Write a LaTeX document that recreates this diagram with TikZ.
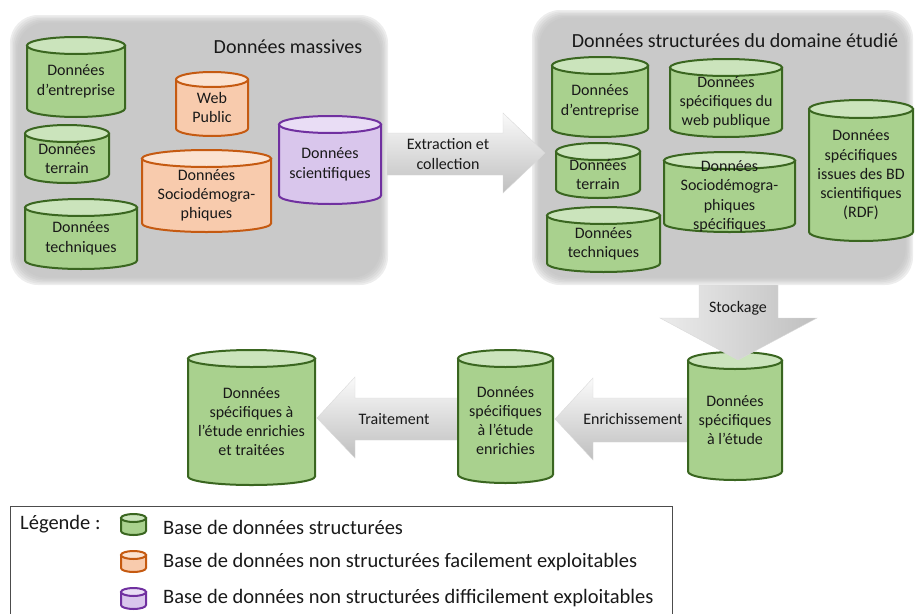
\documentclass[tikz,border=0pt]{standalone}
\usepackage{fontspec}
\setmainfont{Carlito}
\definecolor{gbody}{HTML}{A9D18E}
\definecolor{gtop}{HTML}{CBE4BC}
\definecolor{gline}{HTML}{3A6620}
\definecolor{obody}{HTML}{F8CBAD}
\definecolor{otop}{HTML}{FBE2D0}
\definecolor{oline}{HTML}{C55A11}
\definecolor{pbody}{HTML}{D9C6EC}
\definecolor{ptop}{HTML}{E9DDF5}
\definecolor{pline}{HTML}{7030A0}
\tikzset{
  gcylbody/.style={fill=gbody, draw=gline, line width=2pt},
  gcyltop/.style={fill=gtop, draw=gline, line width=2pt},
  ocylbody/.style={fill=obody, draw=oline, line width=2pt},
  ocyltop/.style={fill=otop, draw=oline, line width=2pt},
  pcylbody/.style={fill=pbody, draw=pline, line width=2pt},
  pcyltop/.style={fill=ptop, draw=pline, line width=2pt},
  cyltext/.style={align=center, font=\fontsize{16}{19.2}\selectfont, inner sep=0pt, text=black!90},
  titletext/.style={font=\fontsize{20}{24}\selectfont, inner sep=0pt, text=black!90},
  arrowtext/.style={align=center, font=\fontsize{16}{19.2}\selectfont, inner sep=0pt, text=black!90},
  legtext/.style={anchor=west, font=\fontsize{20.5}{24}\selectfont, inner sep=0pt, text=black!90},
  harrow/.style={top color=gray!4, bottom color=gray!50, draw=gray!30, line width=0.4pt},
  varrow/.style={left color=gray!15, right color=gray!50, draw=gray!30, line width=0.4pt},
}
% #1 name, #2 style prefix, #3 x1, #4 y1, #5 x2, #6 y2, #7 ry, #8 text
\newcommand{\dbcyl}[8]{%
  \pgfmathsetmacro\cylrx{(#5-#3)/2}%
  \pgfmathsetmacro\cylcx{(#3+#5)/2}%
  \pgfmathsetmacro\cylyt{#4+#7}%
  \pgfmathsetmacro\cylyb{#6-#7}%
  \pgfmathsetmacro\cylty{(\cylyt+#6)/2}%
  \filldraw[#2body] (#3,\cylyt) -- (#3,\cylyb) arc[start angle=180,end angle=360,x radius=\cylrx pt,y radius=#7 pt] -- (#5,\cylyt) -- cycle;
  \filldraw[#2top] (\cylcx,\cylyt) ellipse[x radius=\cylrx pt,y radius=#7 pt];
  \node[cyltext] (#1) at (\cylcx,\cylty) {#8};
}
% soft-edged grey panel
\newcommand{\softbox}[4]{%
  \foreach \i/\c in {0/14,1.5/22,3/29,4.5/35,6/39,7.5/42}{%
    \fill[gray!\c, rounded corners=28pt] (#1+\i,#2+\i) rectangle (#3-\i,#4-\i);
  }%
}
\begin{document}
\begin{tikzpicture}[x=1pt,y=-1pt]
\useasboundingbox (0,0) rectangle (915,613);

% panels
\softbox{10}{15}{388}{285}
\softbox{532}{10}{913}{285}
\node[titletext] (t1) at (288,47) {Données massives};
\node[titletext] (t2) at (735,41) {Données structurées du domaine étudié};

% bottom block arrows (behind cylinders)
\path[harrow] (458,398) -- (355,398) -- (355,377) -- (317,418) -- (355,458) -- (355,440) -- (458,440) -- cycle;
\path[harrow] (688,398) -- (593,398) -- (593,378) -- (555,419) -- (593,460) -- (593,442) -- (688,442) -- cycle;

% left panel cylinders
\dbcyl{g1}{gcyl}{27}{37}{125}{117}{8.5}{Données\\d’entreprise}
\dbcyl{g2}{gcyl}{25}{125}{109}{183}{8.5}{Données\\terrain}
\dbcyl{g3}{gcyl}{25}{199}{137}{269}{8.5}{Données\\techniques}
\dbcyl{o1}{ocyl}{176}{72}{248}{136}{7.5}{Web\\Public}
\dbcyl{o2}{ocyl}{142}{150}{271}{232}{8.5}{Données\\Sociodémogra-\\phiques}
\dbcyl{p1}{pcyl}{279}{116}{381}{204}{8.5}{Données\\scientifiques}

% right panel cylinders
\dbcyl{r1}{gcyl}{552}{57}{648}{137}{8.5}{Données\\d’entreprise}
\dbcyl{r2}{gcyl}{670}{59}{782}{137}{8.5}{Données\\spécifiques du\\web publique}
\dbcyl{r3}{gcyl}{556}{143}{640}{198}{8.5}{Données\\terrain}
\dbcyl{r4}{gcyl}{547}{207}{660}{272}{8.5}{Données\\techniques}
\dbcyl{r5}{gcyl}{664}{152}{795}{232}{8.5}{Données\\Sociodémogra-\\phiques\\spécifiques}
\dbcyl{r6}{gcyl}{809}{100}{913}{241}{9}{Données\\spécifiques\\issues des BD\\scientifiques\\(RDF)}

% bottom cylinders
\dbcyl{b1}{gcyl}{188}{350}{315}{485}{8.5}{Données\\spécifiques à\\l’étude enrichies\\et traitées}
\dbcyl{b2}{gcyl}{458}{350}{553}{483}{8.5}{Données\\spécifiques\\à l’étude\\enrichies}
\dbcyl{b3}{gcyl}{688}{352}{782}{480}{8.5}{Données\\spécifiques\\à l’étude}

% front block arrows
\path[harrow] (387,133) -- (503,133) -- (503,113) -- (545,153) -- (503,193) -- (503,175) -- (387,175) -- cycle;
\path[varrow] (699,285) -- (778,285) -- (778,318) -- (817,318) -- (738,360) -- (660,318) -- (699,318) -- cycle;

\node[arrowtext] (a1) at (448,154) {Extraction et\\collection};
\node[arrowtext] (a2) at (738,308) {Stockage};
\node[arrowtext] (a3) at (394,419) {Traitement};
\node[arrowtext] (a4) at (633,419) {Enrichissement};

% legend
\draw[gray!60!black, line width=1pt] (10,614) -- (10,506) -- (672,506) -- (672,614);
\node[legtext] (lg) at (20,524) {Légende :};
\dbcyl{k1}{gcyl}{121}{514}{146}{535}{4}{}
\dbcyl{k2}{ocyl}{121}{551}{146}{572}{4}{}
\dbcyl{k3}{pcyl}{121}{588}{146}{609}{4}{}
\node[legtext] (l1) at (163,527) {Base de données structurées};
\node[legtext] (l2) at (163,562) {Base de données non structurées facilement exploitables};
\node[legtext] (l3) at (163,598) {Base de données non structurées difficilement exploitables};
\end{tikzpicture}
\end{document}
